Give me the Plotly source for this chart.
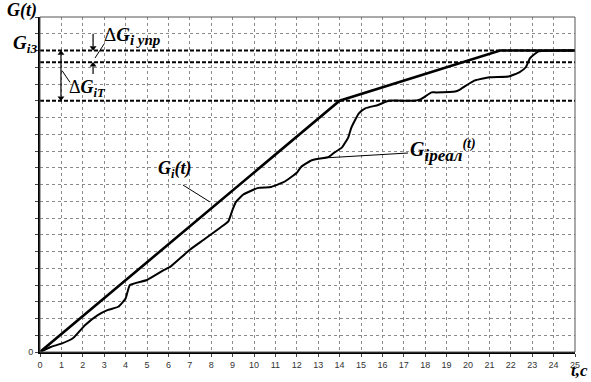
import plotly.graph_objects as go

# ---- data ----
t_ideal = [0, 14, 21.5, 25]
g_ideal = [0, 15, 18, 18]

t_real = [0, 0.5, 1.0, 1.55, 2.1, 2.7, 3.15, 3.66, 4.0, 4.2, 5.0, 5.8, 6.1, 7.0, 7.65,
          8.45, 8.8, 9.0, 9.15, 9.5, 10.2, 10.8, 11.4, 12.0, 12.2, 12.7, 13.5, 13.75,
          14.1, 14.4, 14.55, 14.9, 15.2, 15.8, 16.3, 17.5, 17.8, 18.3, 18.5, 19.4, 19.6,
          19.9, 20.3, 21.0, 21.9, 22.4, 22.7, 22.9, 23.3, 25]
g_real = [0, 0.3, 0.5, 0.84, 1.6, 2.2, 2.5, 2.7, 3.2, 4.0, 4.3, 4.9, 5.1, 6.1, 6.7,
          7.45, 7.8, 8.5, 8.95, 9.4, 9.8, 9.85, 10.15, 10.7, 11.05, 11.45, 11.65, 11.9,
          12.2, 12.8, 13.4, 14.25, 14.55, 14.75, 15.0, 15.0, 15.1, 15.5, 15.5, 15.55, 15.65,
          15.9, 16.2, 16.4, 16.45, 16.7, 17.0, 17.55, 17.95, 18.0]

G_i3 = 18.0
G_upr = 17.3
G_T = 15.0

x_ticks = list(range(0, 26))

SERIF = "Liberation Serif"
SANS = "Liberation Sans"

fig = go.Figure()

fig.add_trace(go.Scatter(x=t_real, y=g_real, mode="lines",
                         line=dict(color="black", width=2, shape="spline", smoothing=0.4),
                         hoverinfo="skip", showlegend=False))
fig.add_trace(go.Scatter(x=t_ideal, y=g_ideal, mode="lines",
                         line=dict(color="black", width=2.6),
                         hoverinfo="skip", showlegend=False))

# bold dashed reference levels
for lvl in (G_i3, G_upr, G_T):
    fig.add_shape(type="line", x0=0, x1=25, y0=lvl, y1=lvl, xref="x", yref="y",
                  line=dict(color="black", width=2, dash="4px,2px"), layer="above")

# frame (top/right)
fig.add_shape(type="rect", xref="paper", yref="paper", x0=0, x1=1, y0=0, y1=1,
              line=dict(color="#555", width=1), layer="above")

def seg(x0, y0, x1, y1, w=1):
    fig.add_shape(type="line", x0=x0, y0=y0, x1=x1, y1=y1, xref="x", yref="y",
                  line=dict(color="black", width=w))

# leader lines
seg(6.68, 9.97, 7.94, 8.96)        # Gi(t)
seg(13.22, 11.58, 17.2, 11.88)     # Greal
seg(2.57, 17.55, 3.0, 18.4)        # dG upr
seg(1.03, 16.8, 1.4, 16.1)         # dG T

# arrow shafts
seg(2.48, 18.25, 2.48, 19.0, 1.2)
seg(2.48, 16.6, 2.48, 17.05, 1.2)
seg(0.98, 15.25, 0.98, 17.75, 1.2)

# arrow heads
fig.add_trace(go.Scatter(x=[2.48, 0.98], y=[18.17, 15.17], mode="markers",
                         marker=dict(symbol="triangle-down", size=6, color="black"),
                         hoverinfo="skip", showlegend=False))
fig.add_trace(go.Scatter(x=[2.48, 0.98], y=[17.13, 17.83], mode="markers",
                         marker=dict(symbol="triangle-up", size=6, color="black"),
                         hoverinfo="skip", showlegend=False))

def label(x, y, text, size=16, xanchor="center", ref="x", yanchor="middle"):
    fig.add_annotation(x=x, y=y, xref=ref, yref=("y" if ref == "x" else "paper"),
                       text=text, showarrow=False, borderpad=0,
                       xanchor=xanchor, yanchor=yanchor,
                       font=dict(family=SERIF, size=size, color="black"))

label(-0.034, 1.02, "<b><i>G(t)</i></b>", 18, ref="paper")
label(-0.004, 0.92, "<b><i>G<sub>i3</sub></i></b>", 19, xanchor="right", ref="paper")
label(1.027, -0.088, "<b><i>t,c</i></b>", 17, xanchor="right", yanchor="bottom",
      ref="paper")

label(2.95, 18.85,
      "Δ<b><i>G<sub><span style='font-size:15px'>i упр</span></sub></i></b>",
      19, xanchor="left")
label(1.3, 15.75, "Δ<b><i>G<sub>iT</sub></i></b>", 18, xanchor="left")
label(6.3, 10.9, "<b><i>G<sub>i</sub>(t)</i></b>", 18)
label(17.25, 12.05,
      "<b><i>G<sub><span style='font-size:17px'>ipeaл</span></sub>"
      "<sup><span style='font-size:14px'>(t)</span></sup></i></b>",
      20, xanchor="left")

fig.update_xaxes(range=[0, 25], tickvals=x_ticks, ticktext=[str(v) for v in x_ticks],
                 showgrid=True, gridcolor="#8a8a8a", gridwidth=1, griddash="dot",
                 showline=True, linecolor="black", linewidth=2,
                 ticks="outside", ticklen=3, tickcolor="#444",
                 tickfont=dict(family=SANS, size=9, color="#333"), zeroline=False,
                 fixedrange=True)
fig.update_yaxes(range=[0, 20], tickvals=[0], ticktext=["0"],
                 showgrid=False,
                 minor=dict(dtick=1, tick0=0, ticks="outside", ticklen=3, tickcolor="#444",
                            showgrid=True, gridcolor="#8a8a8a", gridwidth=1, griddash="dot"),
                 showline=True, linecolor="black", linewidth=2,
                 ticks="outside", ticklen=3, tickcolor="#444",
                 tickfont=dict(family=SANS, size=9, color="#333"), zeroline=False,
                 fixedrange=True)

fig.update_layout(width=591, height=382, margin=dict(l=40, r=16, t=17, b=30),
                  plot_bgcolor="white", paper_bgcolor="white", showlegend=False)

fig.write_html("out.html", config={"displayModeBar": False},
               post_script="document.body.style.margin='0';")
